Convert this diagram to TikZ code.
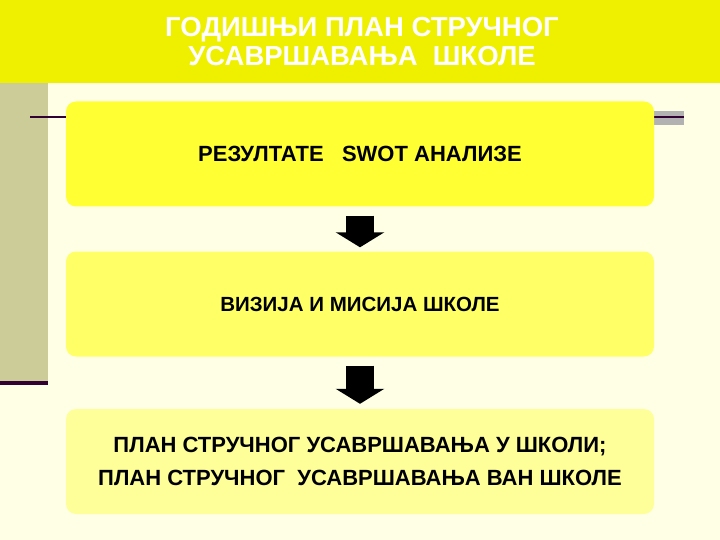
\documentclass[tikz,border=0pt]{standalone}
\usepackage{fontspec}
\setmainfont{Liberation Sans}
\usetikzlibrary{arrows.meta}
\definecolor{banner}{RGB}{239,239,0}
\definecolor{paper}{RGB}{255,255,229}
\definecolor{sidebar}{RGB}{204,204,153}
\definecolor{rule}{RGB}{51,0,51}
\definecolor{band}{RGB}{178,178,178}
\definecolor{boxa}{RGB}{255,255,51}
\definecolor{boxb}{RGB}{255,255,102}
\definecolor{boxc}{RGB}{255,255,153}

\begin{document}
\begin{tikzpicture}[x=1pt,y=-1pt,
   stepbox/.style={rounded corners=10pt,minimum width=588pt,minimum height=105pt,
      inner sep=0pt,align=center,font=\fontsize{22}{33}\selectfont\bfseries},
   blockarrow/.style={line width=28pt,-{Triangle[width=48pt,length=15pt]}}]
   % background and frame
   \useasboundingbox (0,0) rectangle (720,540);
   \fill[paper] (0,0) rectangle (720,540);
   \fill[banner] (0,0) rectangle (720,83);
   \fill[sidebar] (0,83) rectangle (48,382);
   \fill[rule] (0,381) rectangle (48,385);
   \fill[band] (654,111) rectangle (684,125);
   \draw[rule,line width=2pt] (30,117) -- (684,117);
   % title
   \node[text=white,align=center,font=\fontsize{27.5}{29}\selectfont\bfseries] (title) at (362,42)
      {ГОДИШЊИ ПЛАН СТРУЧНОГ\\ УСАВРШАВАЊА\ \ ШКОЛЕ};
   % steps
   \node[stepbox,fill=boxa] (res) at (360,154) {РЕЗУЛТАТЕ\ \ \ SWOT АНАЛИЗЕ};
   \node[stepbox,fill=boxb,font=\fontsize{20.5}{30}\selectfont\bfseries] (viz) at (360,304)
      {ВИЗИЈА И МИСИЈА ШКОЛЕ};
   \node[stepbox,fill=boxc] (plan) at (360,461.5)
      {ПЛАН СТРУЧНОГ УСАВРШАВАЊА У ШКОЛИ;\\ ПЛАН СТРУЧНОГ\ \ УСАВРШАВАЊА ВАН ШКОЛЕ};
   \draw[blockarrow,shorten <=9pt,shorten >=4pt] (res) -- (viz);
   \draw[blockarrow,shorten <=9pt,shorten >=5pt] (viz) -- (plan);
\end{tikzpicture}
\end{document}
